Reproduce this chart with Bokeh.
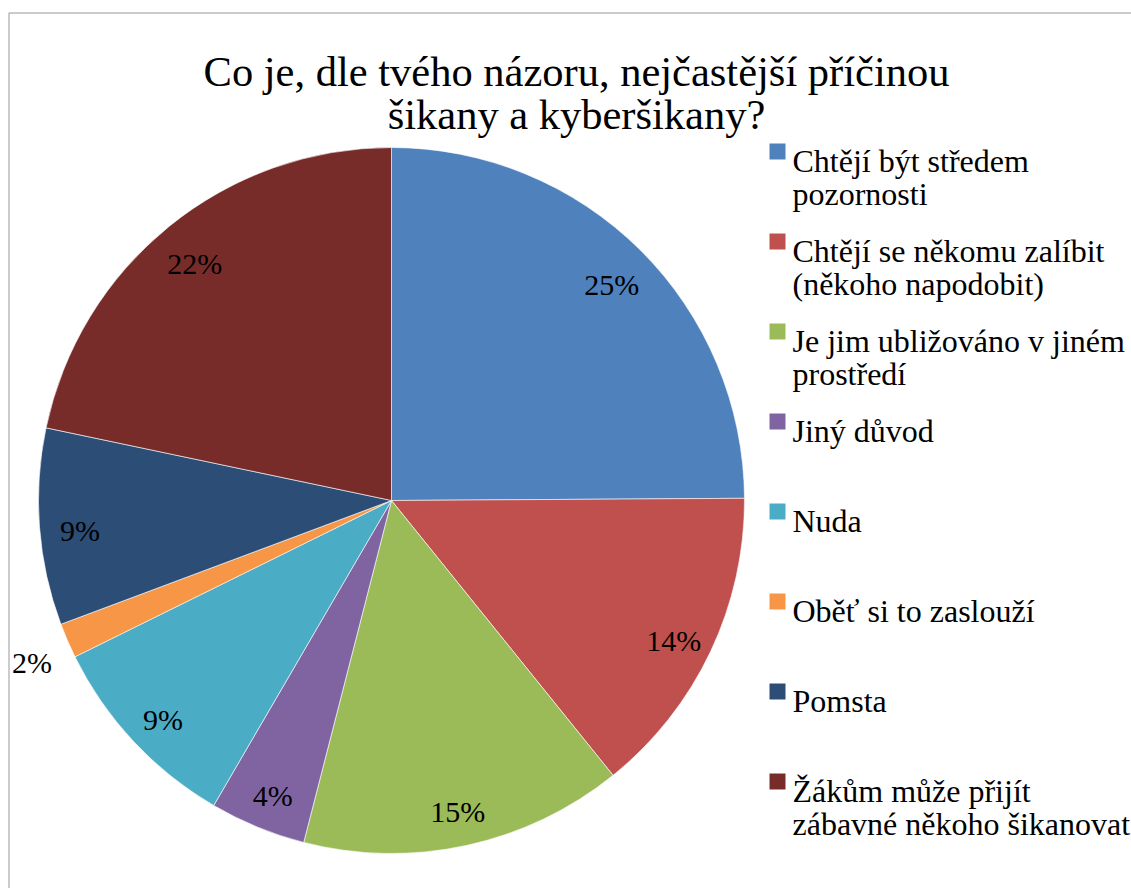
import math
from bokeh.plotting import figure
from bokeh.models import Range1d, ColumnDataSource
from bokeh.core.properties import value
from bokeh.embed import file_html
from bokeh.resources import INLINE

# ---- data ----
title_lines = ["Co je, dle tvého názoru, nejčastější příčinou", "šikany a kyberšikany?"]
categories = [
    "Chtějí být středem\npozornosti",
    "Chtějí se někomu zalíbit\n(někoho napodobit)",
    "Je jim ubližováno v jiném\nprostředí",
    "Jiný důvod",
    "Nuda",
    "Oběť si to zaslouží",
    "Pomsta",
    "Žákům může přijít\nzábavné někoho šikanovat",
]
shares = [24.9, 14.3, 14.8, 4.4, 9.3, 1.6, 9.0, 21.7]
colors = ["#4F81BD", "#C0504D", "#9BBB59", "#8064A2", "#4BACC6", "#F79646", "#2C4D75", "#772C2A"]

# ---- layout (page pixels, y up) ----
W, H = 1131, 888
FONT = value("Liberation Serif")
cx, cy, R = 391, 388, 353

p = figure(width=W, height=H, x_range=Range1d(0, W), y_range=Range1d(0, H),
           min_border=0, output_backend="svg", toolbar_location=None,
           x_axis_location=None, y_axis_location=None)
p.grid.visible = False
p.outline_line_color = None
p.background_fill_color = "white"
p.border_fill_color = "white"

# chart-area border (right/bottom edges fall outside the window like in the source)
p.quad(left=[8.5], right=[W + 40], bottom=[-40], top=[H - 12.5],
       fill_color=None, line_color="#BBBBBB", line_width=1.5)

# wedges, clockwise from 12 o'clock
total = sum(shares)
starts, ends, mids, labels = [], [], [], []
c = 0.0
for s in shares:
    c0 = c / total
    c += s
    c1 = c / total
    starts.append(math.radians(90 - 360 * c1))
    ends.append(math.radians(90 - 360 * c0))
    mids.append(math.radians(90 - 180 * (c0 + c1)))
    labels.append(f"{round(s)}%")

src = ColumnDataSource(dict(start=starts, end=ends, color=colors))
p.wedge(x=cx, y=cy, radius=R, start_angle="start", end_angle="end", fill_color="color",
        line_color="white", line_width=0.6, source=src)

# percentage labels (inside near the rim, small slice outside)
lx, ly = [], []
for s, m in zip(shares, mids):
    rr = R * (1.11 if s / total < 0.03 else 0.885)
    lx.append(cx + rr * math.cos(m))
    ly.append(cy + rr * math.sin(m) - 6)
p.text(x=lx, y=ly, text=labels, text_font=FONT, text_font_size="30px",
       text_align="center", text_baseline="middle", text_color="black")

# title
p.text(x=[576, 576], y=[817, 774], text=title_lines, text_font=FONT, text_font_size="42.5px",
       text_align="center", text_baseline="alphabetic", text_color="black")

# legend
sq_x, sq_y = [], []
tx, ty, tt = [], [], []
for i, cat in enumerate(categories):
    base = 728 - 90 * i
    sq_x.append(777)
    sq_y.append(base + 9)
    for j, line in enumerate(cat.split("\n")):
        tx.append(792)
        ty.append(base - 33 * j)
        tt.append(line)
p.rect(x=sq_x, y=sq_y, width=16, height=16, fill_color=colors, line_color=None)
p.text(x=tx, y=ty, text=tt, text_font=FONT, text_font_size="32px",
       text_align="left", text_baseline="alphabetic", text_color="black")

open("out.html", "w").write(file_html(p, INLINE))
